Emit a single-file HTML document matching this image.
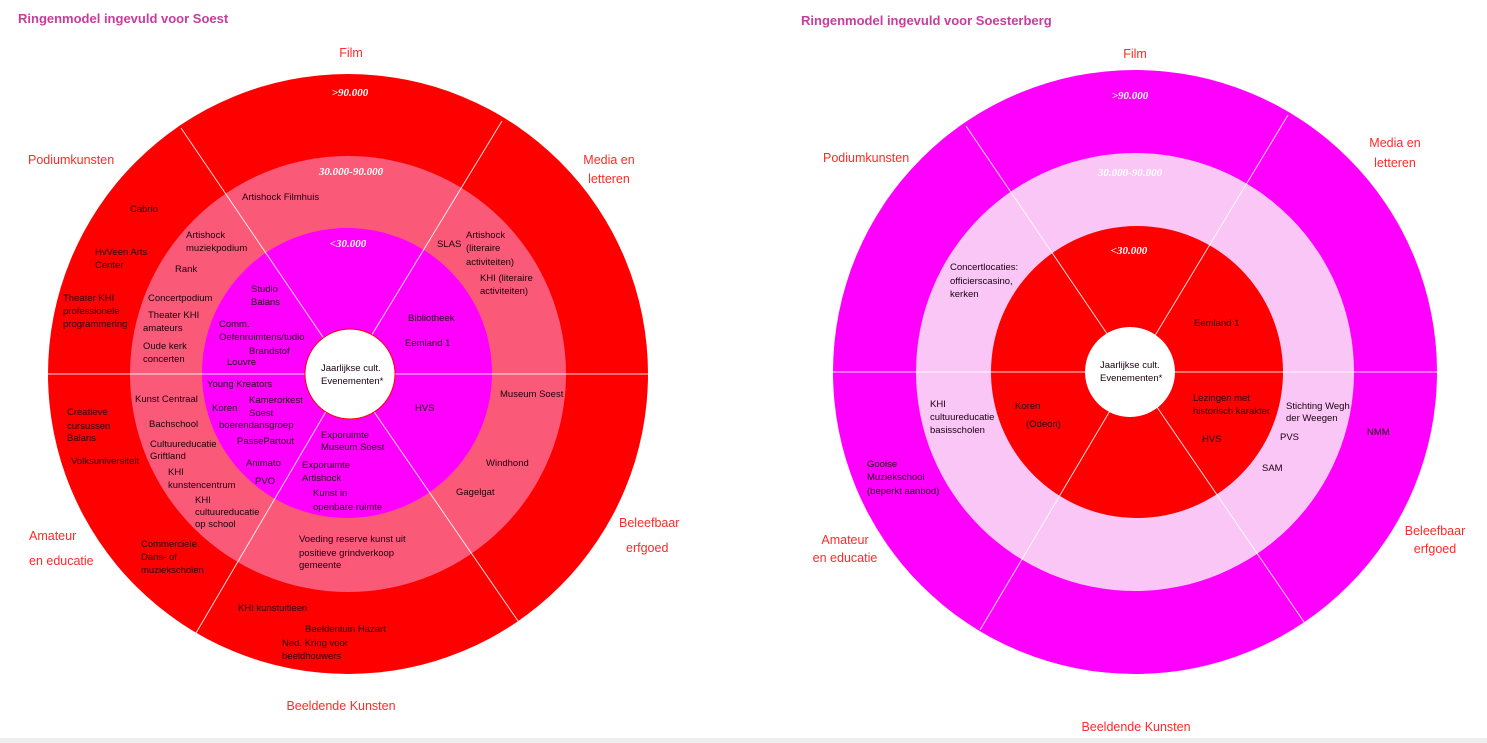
<!DOCTYPE html>
<html><head><meta charset="utf-8"><style>
body{margin:0;background:#fff;width:1487px;height:743px;overflow:hidden}
svg{display:block}
text{font-family:"Liberation Sans",sans-serif}
.t{font-size:9.5px;fill:#1a0010}
.c{font-size:12.5px;fill:#ff2a2a}
.h{font-size:13px;font-weight:bold;fill:#c83c9c}
.w{font-size:11px;font-weight:bold;font-style:italic;fill:#fff;font-family:"Liberation Serif",serif}
</style></head><body>
<svg width="1487" height="743" xmlns="http://www.w3.org/2000/svg">
<rect x="0" y="738" width="1487" height="5" fill="#eeeeee"/>
<text class="h" x="18" y="23">Ringenmodel ingevuld voor Soest</text>
<text class="h" x="801" y="25">Ringenmodel ingevuld voor Soesterberg</text>

<!-- LEFT -->
<circle cx="348" cy="374" r="300" fill="#ff0000"/>
<circle cx="348" cy="374" r="218" fill="#fa5a78"/>
<circle cx="347" cy="373" r="145" fill="#ff00ff"/>
<g stroke="#fff" stroke-width="1" opacity="0.85">
<line x1="48" y1="374" x2="649" y2="374"/>
<line x1="348" y1="374" x2="181" y2="128"/>
<line x1="348" y1="374" x2="502" y2="121"/>
<line x1="348" y1="374" x2="196" y2="633"/>
<line x1="348" y1="374" x2="518" y2="621"/>
</g>
<circle cx="350" cy="374" r="45" fill="#fff" stroke="#ff0000" stroke-width="1"/>
<g class="t">
<text x="321" y="371">Jaarlijkse cult.</text><text x="321" y="384">Evenementen*</text>
<text x="242" y="200">Artishock Filmhuis</text>
<text x="130" y="212">Cabrio</text>
<text x="186" y="238">Artishock</text><text x="186" y="251">muziekpodium</text>
<text x="95" y="255">HvVeen Arts</text><text x="95" y="268">Center</text>
<text x="175" y="272">Rank</text>
<text x="63" y="301">Theater KHI</text><text x="63" y="314">professionele</text><text x="63" y="327">programmering</text>
<text x="148" y="301">Concertpodium</text>
<text x="148" y="318">Theater KHI</text><text x="143" y="331">amateurs</text>
<text x="143" y="349">Oude kerk</text><text x="143" y="362">concerten</text>
<text x="251" y="292">Studio</text><text x="251" y="305">Balans</text>
<text x="219" y="327">Comm.</text><text x="219" y="340">Oefenruimtens/tudio</text>
<text x="249" y="354">Brandstof</text><text x="227" y="365">Louvre</text>
<text x="437" y="247">SLAS</text>
<text x="466" y="238">Artishock</text><text x="466" y="251">(literaire</text><text x="466" y="265">activiteiten)</text>
<text x="480" y="281">KHI (literaire</text><text x="480" y="294">activiteiten)</text>
<text x="408" y="321">Bibliotheek</text>
<text x="405" y="346">Eemland 1</text>
<text x="207" y="387">Young Kreators</text>
<text x="500" y="397">Museum Soest</text>
<text x="135" y="402">Kunst Centraal</text>
<text x="212" y="411">Koren</text>
<text x="249" y="403">Kamerorkest</text><text x="249" y="416">Soest</text>
<text x="219" y="428">boerendansgroep</text>
<text x="415" y="411">HVS</text>
<text x="67" y="415">Creatieve</text><text x="67" y="429">cursussen</text><text x="67" y="441">Balans</text>
<text x="149" y="427">Bachschool</text>
<text x="237" y="444">PassePartout</text>
<text x="150" y="447">Cultuureducatie</text><text x="150" y="459">Griftland</text>
<text x="321" y="438">Exporuimte</text><text x="321" y="450">Museum Soest</text>
<text x="71" y="464">Volksuniversiteit</text>
<text x="246" y="466">Animato</text>
<text x="486" y="466">Windhond</text>
<text x="302" y="468">Exporuimte</text><text x="302" y="481">Artishock</text>
<text x="168" y="475">KHI</text><text x="168" y="488">kunstencentrum</text>
<text x="255" y="484">PVO</text>
<text x="456" y="495">Gagelgat</text>
<text x="313" y="496">Kunst in</text><text x="313" y="510">openbare ruimte</text>
<text x="195" y="503">KHI</text><text x="195" y="515">cultuureducatie</text><text x="195" y="527">op school</text>
<text x="299" y="542">Voeding reserve kunst uit</text><text x="299" y="556">positieve grindverkoop</text><text x="299" y="568">gemeente</text>
<text x="141" y="547">Commerciele.</text><text x="141" y="560">Dans- of</text><text x="141" y="573">muziekscholen</text>
<text x="238" y="611">KHI kunstuitleen</text>
<text x="305" y="632">Beeldentuin Hazart</text>
<text x="282" y="646">Ned. Kring voor</text><text x="282" y="659">beeldhouwers</text>
</g>
<text class="w" x="350" y="96" text-anchor="middle">&gt;90.000</text>
<text class="w" x="351" y="175" text-anchor="middle">30.000-90.000</text>
<text class="w" x="348" y="247" text-anchor="middle">&lt;30.000</text>
<g class="c">
<text x="351" y="57" text-anchor="middle">Film</text>
<text x="28" y="164">Podiumkunsten</text>
<text x="609" y="164" text-anchor="middle">Media en</text><text x="609" y="183" text-anchor="middle">letteren</text>
<text x="29" y="540">Amateur</text><text x="29" y="565">en educatie</text>
<text x="619" y="527">Beleefbaar</text><text x="626" y="552">erfgoed</text>
<text x="341" y="710" text-anchor="middle">Beeldende Kunsten</text>
</g>

<!-- RIGHT -->
<circle cx="1135" cy="372" r="302" fill="#ff00ff"/>
<circle cx="1135" cy="372" r="219" fill="#f9c6f5"/>
<circle cx="1137" cy="372" r="146" fill="#ff0000"/>
<g stroke="#fff" stroke-width="1" opacity="0.85">
<line x1="832" y1="372" x2="1437" y2="372"/>
<line x1="1133" y1="372" x2="966" y2="126"/>
<line x1="1133" y1="372" x2="1288" y2="115"/>
<line x1="1133" y1="372" x2="980" y2="630"/>
<line x1="1133" y1="372" x2="1304" y2="622"/>
</g>
<circle cx="1130" cy="372" r="45" fill="#fff"/>
<g class="t">
<text x="1100" y="368">Jaarlijkse cult.</text><text x="1100" y="381">Evenementen*</text>
<text x="950" y="270">Concertlocaties:</text><text x="950" y="284">officierscasino,</text><text x="950" y="297">kerken</text>
<text x="1194" y="326">Eemland 1</text>
<text x="1193" y="401">Lezingen met</text><text x="1193" y="414">historisch karakter</text>
<text x="930" y="407">KHI</text><text x="930" y="420">cultuureducatie</text><text x="930" y="433">basisscholen</text>
<text x="1015" y="409">Koren</text><text x="1026" y="427">(Odeon)</text>
<text x="1286" y="409">Stichting Wegh</text><text x="1286" y="421">der Weegen</text>
<text x="1367" y="435">NMM</text>
<text x="1280" y="440">PVS</text>
<text x="1202" y="442">HVS</text>
<text x="1262" y="471">SAM</text>
<text x="867" y="467">Gooise</text><text x="867" y="480">Muziekschool</text><text x="867" y="494">(beperkt aanbod)</text>
</g>
<text class="w" x="1130" y="99" text-anchor="middle">&gt;90.000</text>
<text class="w" x="1130" y="176" text-anchor="middle">30.000-90.000</text>
<text class="w" x="1129" y="254" text-anchor="middle">&lt;30.000</text>
<g class="c">
<text x="1135" y="58" text-anchor="middle">Film</text>
<text x="823" y="162">Podiumkunsten</text>
<text x="1395" y="147" text-anchor="middle">Media en</text><text x="1395" y="167" text-anchor="middle">letteren</text>
<text x="845" y="544" text-anchor="middle">Amateur</text><text x="845" y="562" text-anchor="middle">en educatie</text>
<text x="1435" y="535" text-anchor="middle">Beleefbaar</text><text x="1435" y="553" text-anchor="middle">erfgoed</text>
<text x="1136" y="731" text-anchor="middle">Beeldende Kunsten</text>
</g>
</svg>
</body></html>
